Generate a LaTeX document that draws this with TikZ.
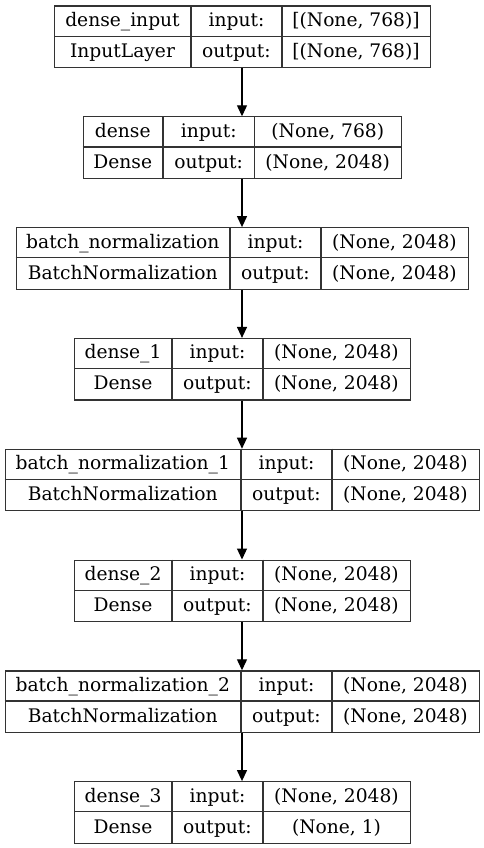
\documentclass[tikz,border=0pt]{standalone}
\usepackage{fontspec}
\setmainfont{DejaVu Serif}
\usetikzlibrary{arrows.meta,calc}
\tikzset{
  recbox/.style={draw=black!80, line width=1.2pt, inner sep=0pt, rectangle},
  recline/.style={draw=black!80, line width=1.2pt},
  txt/.style={inner sep=0pt, anchor=base, font=\fontsize{18.67}{20}\selectfont},
  arr/.style={draw=black, line width=1.2pt, -{Triangle[length=11pt,width=10pt]}}
}
% #1 name, #2 x1, #3 d1, #4 d2, #5 x2, #6 ytop
\newcommand\recbox[6]{%
  \node[recbox, minimum width={(#5-#2)*1pt}, minimum height=61.5pt, anchor=north west] (#1) at (#2,#6) {};
  \draw[recline] (#2,#6+30.75) -- (#5,#6+30.75);
  \draw[recline] (#3,#6) -- (#3,#6+61.5);
  \draw[recline] (#4,#6) -- (#4,#6+61.5);
  \coordinate (#1-a1) at ({(#2+#3)/2},#6+21.0);
  \coordinate (#1-a2) at ({(#3+#4)/2},#6+21.0);
  \coordinate (#1-a3) at ({(#4+#5)/2},#6+21.0);
  \coordinate (#1-b1) at ({(#2+#3)/2},#6+51.9);
  \coordinate (#1-b2) at ({(#3+#4)/2},#6+51.9);
  \coordinate (#1-b3) at ({(#4+#5)/2},#6+51.9);
}
% #1 name, #2 layer name, #3 class, #4 in shape, #5 out shape
\newcommand\rectext[5]{%
  \node[txt] (#1-t1) at (#1-a1) {#2};
  \node[txt] (#1-t2) at (#1-a2) {input:};
  \node[txt] (#1-t3) at (#1-a3) {#4};
  \node[txt] (#1-t4) at (#1-b1) {#3};
  \node[txt] (#1-t5) at (#1-b2) {output:};
  \node[txt] (#1-t6) at (#1-b3) {#5};
}
\begin{document}
\begin{tikzpicture}[x=1pt,y=-1pt]
\useasboundingbox (0,0) rectangle (484,848);
\fill[white] (0,0) rectangle (484,848);
\coordinate (ax) at (242,0);

\recbox{n0}{54}{191}{282}{430}{5.5}
\rectext{n0}{dense\_input}{InputLayer}{[(None, 768)]}{[(None, 768)]}

\recbox{n1}{82.5}{163}{254.5}{401}{116.3}
\rectext{n1}{dense}{Dense}{(None, 768)}{(None, 2048)}

\recbox{n2}{15.5}{230}{321}{468}{227.1}
\rectext{n2}{batch\_normalization}{BatchNormalization}{(None, 2048)}{(None, 2048)}

\recbox{n3}{74}{172}{263}{410}{337.9}
\rectext{n3}{dense\_1}{Dense}{(None, 2048)}{(None, 2048)}

\recbox{n4}{4.5}{241}{332}{479}{448.7}
\rectext{n4}{batch\_normalization\_1}{BatchNormalization}{(None, 2048)}{(None, 2048)}

\recbox{n5}{74}{172}{263}{410}{559.5}
\rectext{n5}{dense\_2}{Dense}{(None, 2048)}{(None, 2048)}

\recbox{n6}{4.5}{241}{332}{479}{670.3}
\rectext{n6}{batch\_normalization\_2}{BatchNormalization}{(None, 2048)}{(None, 2048)}

\recbox{n7}{74}{172}{263}{410}{781.1}
\rectext{n7}{dense\_3}{Dense}{(None, 2048)}{(None, 1)}

\draw[arr] (n0.south -| ax) -- (n1.north -| ax);
\draw[arr] (n1.south -| ax) -- (n2.north -| ax);
\draw[arr] (n2.south -| ax) -- (n3.north -| ax);
\draw[arr] (n3.south -| ax) -- (n4.north -| ax);
\draw[arr] (n4.south -| ax) -- (n5.north -| ax);
\draw[arr] (n5.south -| ax) -- (n6.north -| ax);
\draw[arr] (n6.south -| ax) -- (n7.north -| ax);
\end{tikzpicture}
\end{document}
